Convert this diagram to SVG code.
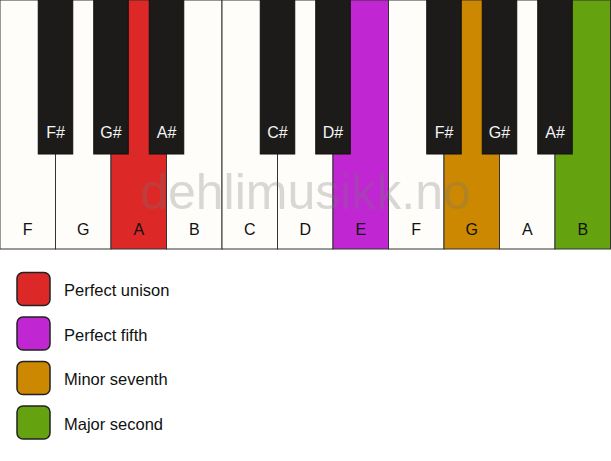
<svg xmlns="http://www.w3.org/2000/svg" width="611" height="461" viewBox="0 0 611 461">
<style>
.w{fill:#FFFDF9;stroke:#333;stroke-width:1}
.b{fill:#1C1B1A;stroke:#111;stroke-width:1}
.wl{font-family:"Liberation Sans",Arial,sans-serif;font-size:16px;fill:#111;text-anchor:middle}
.bl{font-family:"Liberation Sans",Arial,sans-serif;font-size:16px;fill:#F4F4F4;text-anchor:middle}
.lg{stroke:#222;stroke-width:1.5}
.lt{font-family:"Liberation Sans",Arial,sans-serif;font-size:16.5px;fill:#111}
.red{fill:#DD2828}.pur{fill:#C126D3}.org{fill:#CC8800}.grn{fill:#64A30F}
</style>
<rect width="611" height="461" fill="#FFFFFF"/>
<g id="white-keys">
<g id="key-F1"><rect class="w" x="0" y="0" width="55.5" height="249"/><text class="wl" x="27.75" y="235">F</text></g>
<g id="key-G1"><rect class="w" x="55.5" y="0" width="55.5" height="249"/><text class="wl" x="83.25" y="235">G</text></g>
<g id="key-A1"><rect class="w red" x="111" y="0" width="55.5" height="249"/><text class="wl" x="138.75" y="235">A</text></g>
<g id="key-B1"><rect class="w" x="166.5" y="0" width="55.5" height="249"/><text class="wl" x="194.25" y="235">B</text></g>
<g id="key-C"><rect class="w" x="222" y="0" width="55.5" height="249"/><text class="wl" x="249.75" y="235">C</text></g>
<g id="key-D"><rect class="w" x="277.5" y="0" width="55.5" height="249"/><text class="wl" x="305.25" y="235">D</text></g>
<g id="key-E"><rect class="w pur" x="333" y="0" width="55.5" height="249"/><text class="wl" x="360.75" y="235">E</text></g>
<g id="key-F2"><rect class="w" x="388.5" y="0" width="55.5" height="249"/><text class="wl" x="416.25" y="235">F</text></g>
<g id="key-G2"><rect class="w org" x="444" y="0" width="55.5" height="249"/><text class="wl" x="471.75" y="235">G</text></g>
<g id="key-A2"><rect class="w" x="499.5" y="0" width="55.5" height="249"/><text class="wl" x="527.25" y="235">A</text></g>
<g id="key-B2"><rect class="w grn" x="555" y="0" width="55.5" height="249"/><text class="wl" x="582.75" y="235">B</text></g>
</g>
<g id="black-keys">
<g id="key-Fs1"><rect class="b" x="38.25" y="-1" width="34.5" height="155"/><text class="bl" x="55.5" y="138">F#</text></g>
<g id="key-Gs1"><rect class="b" x="93.75" y="-1" width="34.5" height="155"/><text class="bl" x="111" y="138">G#</text></g>
<g id="key-As1"><rect class="b" x="149.25" y="-1" width="34.5" height="155"/><text class="bl" x="166.5" y="138">A#</text></g>
<g id="key-Cs"><rect class="b" x="260.25" y="-1" width="34.5" height="155"/><text class="bl" x="277.5" y="138">C#</text></g>
<g id="key-Ds"><rect class="b" x="315.75" y="-1" width="34.5" height="155"/><text class="bl" x="333" y="138">D#</text></g>
<g id="key-Fs2"><rect class="b" x="426.75" y="-1" width="34.5" height="155"/><text class="bl" x="444" y="138">F#</text></g>
<g id="key-Gs2"><rect class="b" x="482.25" y="-1" width="34.5" height="155"/><text class="bl" x="499.5" y="138">G#</text></g>
<g id="key-As2"><rect class="b" x="537.75" y="-1" width="34.5" height="155"/><text class="bl" x="555" y="138">A#</text></g>
</g>
<g id="watermark"><text x="305.5" y="209" font-family="'Liberation Sans',Arial,sans-serif" font-size="50" fill="#777777" fill-opacity="0.28" text-anchor="middle">dehlimusikk.no</text></g>
<g id="legend">
<g id="legend-unison"><rect class="lg red" x="17" y="272.5" width="33" height="33" rx="6"/><text class="lt" x="64" y="296">Perfect unison</text></g>
<g id="legend-fifth"><rect class="lg pur" x="17" y="317" width="33" height="33" rx="6"/><text class="lt" x="64" y="340.5">Perfect fifth</text></g>
<g id="legend-seventh"><rect class="lg org" x="17" y="361.5" width="33" height="33" rx="6"/><text class="lt" x="64" y="385">Minor seventh</text></g>
<g id="legend-second"><rect class="lg grn" x="17" y="406" width="33" height="33" rx="6"/><text class="lt" x="64" y="429.5">Major second</text></g>
</g>
<g id="connectors"/>
</svg>
